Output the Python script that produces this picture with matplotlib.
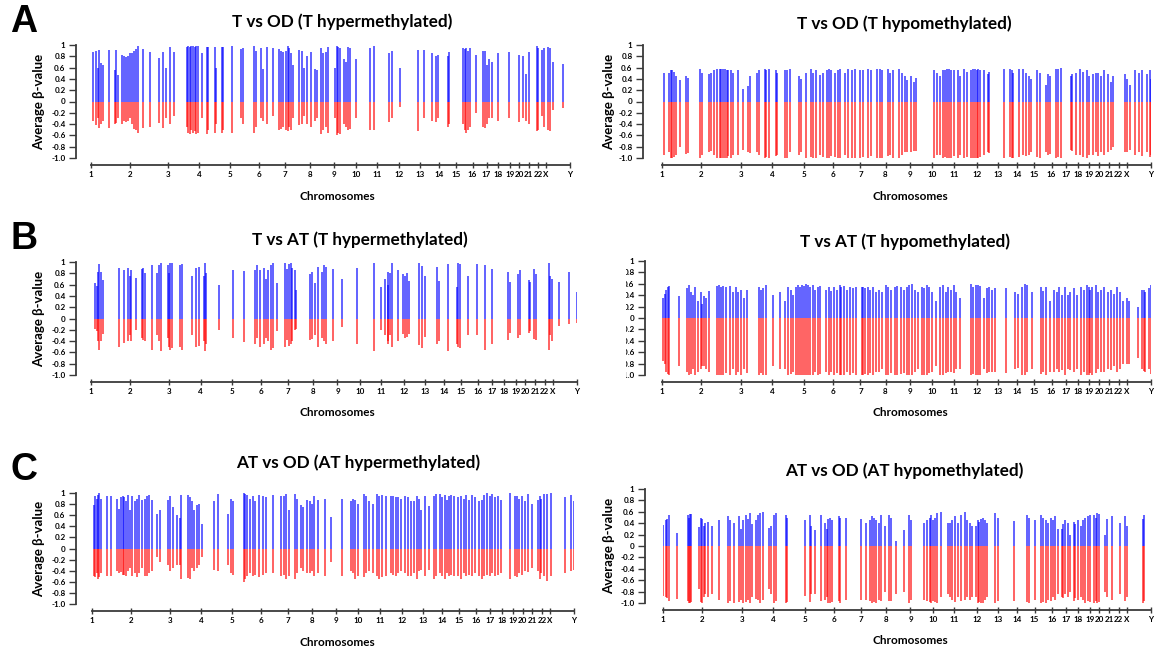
import numpy as np
import matplotlib.pyplot as plt
from matplotlib.patches import Rectangle

plt.rcParams['font.family'] = ['Lato', 'DejaVu Sans']

chrom_names = [str(i) for i in range(1, 23)] + ["X", "Y"]
# start of each chromosome along the concatenated genome (Mb)
chrom_start_mb = [0, 250, 500, 700, 900, 1085, 1258, 1417, 1572, 1714, 1850, 1995,
                  2130, 2250, 2360, 2470, 2560, 2637, 2710, 2770, 2833, 2895, 2945, 3100]

beta_ticks = [1, 0.8, 0.6, 0.4, 0.2, 0, -0.2, -0.4, -0.6, -0.8, -1.0]
beta_labels = ["1", "0.8", "0.6", "0.4", "0.2", "0", "-0.2", "-0.4", "-0.6", "-0.8", "-1.0"]

# probes: (genome position Mb, mean beta group 1, -mean beta group 2)
t_od_hyper = [
    (12, 0.88, -0.35), (31, 0.90, -0.42), (43, 0.60, -0.30), (55, 0.92, -0.47), (67, 0.68, -0.40),
    (79, 0.65, -0.35), (115, 0.92, -0.47), (156, 0.55, -0.40), (163, 0.92, -0.38), (175, 0.47, -0.30),
    (203, 0.82, -0.40), (215, 0.80, -0.35), (227, 0.78, -0.37), (239, 0.80, -0.35), (251, 0.85, -0.30),
    (263, 0.86, -0.40), (280, 0.90, -0.48), (292, 0.93, -0.50), (304, 0.98, -0.55), (335, 0.93, -0.47),
    (383, 0.87, -0.45), (443, 0.77, -0.38), (467, 0.87, -0.47), (484, 0.60, -0.30), (510, 0.97, -0.40),
    (539, 0.87, -0.25), (622, 0.97, -0.45), (630, 0.98, -0.55), (639, 0.96, -0.58), (649, 0.98, -0.50),
    (658, 0.99, -0.55), (670, 0.97, -0.52), (682, 0.99, -0.58), (694, 0.98, -0.55), (718, 0.85, -0.30),
    (749, 0.97, -0.58), (759, 0.96, -0.50), (802, 0.97, -0.55), (809, 0.60, -0.40), (850, 0.96, -0.55),
    (857, 0.96, -0.50), (910, 0.98, -0.55), (970, 0.93, -0.30), (982, 0.95, -0.40), (1053, 0.98, -0.56),
    (1070, 0.90, -0.45), (1101, 0.95, -0.30), (1113, 0.57, -0.35), (1137, 0.96, -0.40), (1180, 0.95, -0.25),
    (1214, 0.93, -0.50), (1228, 0.90, -0.48), (1245, 0.88, -0.45), (1262, 0.90, -0.50), (1274, 0.98, -0.52),
    (1283, 0.95, -0.45), (1293, 0.85, -0.50), (1305, 0.65, -0.30), (1348, 0.92, -0.42), (1364, 0.90, -0.40),
    (1381, 0.60, -0.25), (1396, 0.80, -0.40), (1424, 0.88, -0.45), (1448, 0.58, -0.35), (1465, 0.55, -0.30),
    (1491, 0.95, -0.57), (1501, 0.85, -0.50), (1520, 0.88, -0.45), (1532, 0.97, -0.55), (1580, 0.60, -0.30),
    (1592, 0.98, -0.60), (1599, 0.97, -0.55), (1611, 0.95, -0.57), (1640, 0.75, -0.40), (1652, 0.70, -0.45),
    (1664, 0.97, -0.50), (1673, 0.95, -0.48), (1712, 0.75, -0.30), (1807, 0.95, -0.50), (1831, 0.98, -0.50),
    (1927, 0.85, -0.37), (1946, 0.90, -0.30), (1999, 0.60, -0.10), (2119, 0.92, -0.52), (2155, 0.92, -0.30),
    (2210, 0.85, -0.35), (2234, 0.80, -0.37), (2246, 0.82, -0.30), (2310, 0.80, -0.45), (2317, 0.88, -0.40),
    (2406, 0.95, -0.40), (2418, 0.93, -0.50), (2430, 0.95, -0.55), (2442, 0.90, -0.50), (2454, 0.95, -0.45),
    (2490, 0.83, -0.20), (2538, 0.90, -0.45), (2550, 0.90, -0.47), (2562, 0.65, -0.40), (2578, 0.75, -0.30),
    (2597, 0.70, -0.30), (2633, 0.85, -0.35), (2705, 0.88, -0.30), (2772, 0.82, -0.37), (2794, 0.80, -0.30),
    (2813, 0.48, -0.35), (2832, 0.88, -0.40), (2885, 0.98, -0.53), (2892, 0.95, -0.50), (2921, 0.92, -0.25),
    (2933, 0.95, -0.45), (2957, 0.96, -0.50), (2973, 0.95, -0.52), (2992, 0.70, -0.15), (3052, 0.67, -0.12),
]

t_od_hypo = [
    (14, 0.50, -0.95), (42, 0.50, -0.90), (54, 0.55, -1.00), (65, 0.55, -1.00), (77, 0.52, -0.98),
    (89, 0.45, -0.95), (117, 0.38, -0.80), (152, 0.45, -0.93), (164, 0.42, -0.92), (241, 0.57, -1.00),
    (253, 0.50, -0.95), (299, 0.48, -0.90), (311, 0.50, -0.88), (327, 0.55, -0.95), (351, 0.58, -1.00),
    (365, 0.58, -1.00), (374, 0.57, -1.00), (388, 0.58, -1.00), (400, 0.58, -1.00), (411, 0.56, -1.00),
    (421, 0.55, -0.97), (440, 0.55, -1.00), (451, 0.50, -0.95), (482, 0.55, -0.95), (514, 0.22, -0.85),
    (545, 0.28, -0.90), (561, 0.45, -0.92), (603, 0.50, -0.90), (615, 0.55, -0.95), (650, 0.57, -1.00),
    (662, 0.55, -0.98), (678, 0.57, -1.00), (720, 0.55, -0.97), (732, 0.50, -0.95), (779, 0.55, -1.00),
    (790, 0.55, -1.00), (814, 0.57, -0.90), (867, 0.45, -0.95), (884, 0.40, -0.90), (912, 0.50, -1.00),
    (942, 0.57, -0.98), (959, 0.50, -1.00), (977, 0.55, -1.00), (1001, 0.47, -0.95), (1019, 0.50, -0.98),
    (1043, 0.55, -1.00), (1059, 0.57, -1.00), (1071, 0.55, -0.97), (1094, 0.50, -0.98), (1118, 0.55, -1.00),
    (1129, 0.57, -1.00), (1160, 0.50, -0.95), (1176, 0.57, -1.00), (1206, 0.55, -1.00), (1223, 0.57, -1.00),
    (1258, 0.55, -1.00), (1277, 0.55, -0.98), (1305, 0.57, -1.00), (1328, 0.55, -0.97), (1363, 0.57, -1.00),
    (1379, 0.58, -1.00), (1393, 0.55, -1.00), (1433, 0.57, -0.97), (1445, 0.50, -0.95), (1464, 0.55, -1.00),
    (1503, 0.57, -1.00), (1522, 0.50, -0.95), (1538, 0.45, -0.90), (1550, 0.38, -0.90), (1581, 0.45, -0.90),
    (1597, 0.35, -0.88), (1613, 0.42, -0.88), (1725, 0.55, -1.00), (1744, 0.50, -0.95), (1761, 0.45, -0.95),
    (1784, 0.55, -1.00), (1796, 0.55, -0.98), (1807, 0.57, -1.00), (1819, 0.58, -1.00), (1831, 0.55, -1.00),
    (1854, 0.56, -0.97), (1877, 0.55, -1.00), (1889, 0.45, -0.95), (1912, 0.58, -1.00), (1931, 0.52, -0.98),
    (1959, 0.55, -1.00), (1971, 0.58, -1.00), (1983, 0.57, -1.00), (1994, 0.55, -1.00), (2006, 0.57, -1.00),
    (2018, 0.55, -0.98), (2041, 0.55, -0.95), (2064, 0.48, -0.90), (2076, 0.52, -0.92), (2170, 0.57, -1.00),
    (2205, 0.58, -0.98), (2216, 0.55, -1.00), (2228, 0.50, -1.00), (2263, 0.58, -0.98), (2287, 0.58, -0.95),
    (2310, 0.50, -0.97), (2329, 0.45, -0.95), (2338, 0.40, -0.90), (2380, 0.55, -0.98), (2399, 0.50, -1.00),
    (2432, 0.30, -0.90), (2450, 0.48, -0.95), (2462, 0.45, -0.93), (2497, 0.58, -1.00), (2513, 0.58, -0.98),
    (2532, 0.60, -1.00), (2591, 0.45, -0.85), (2602, 0.48, -0.87), (2626, 0.50, -0.95), (2649, 0.58, -0.95),
    (2672, 0.52, -0.98), (2696, 0.55, -1.00), (2707, 0.45, -0.95), (2731, 0.48, -0.95), (2749, 0.50, -0.90),
    (2766, 0.50, -0.97), (2782, 0.45, -0.90), (2801, 0.55, -0.95), (2829, 0.48, -0.90), (2848, 0.35, -0.85),
    (2859, 0.45, -0.80), (2937, 0.48, -0.90), (2948, 0.40, -0.90), (2965, 0.30, -0.85), (3000, 0.55, -0.95),
    (3023, 0.50, -0.90), (3046, 0.55, -0.97), (3077, 0.48, -0.90), (3093, 0.55, -0.98), (3100, 0.40, -0.95),
]

t_at_hyper = [
    (24, 0.62, -0.18), (40, 0.58, -0.22), (47, 0.83, -0.40), (54, 0.97, -0.55), (64, 0.82, -0.40),
    (78, 0.68, -0.27), (181, 0.90, -0.50), (212, 0.85, -0.43), (236, 0.90, -0.40), (247, 0.75, -0.30),
    (255, 0.85, -0.40), (290, 0.72, -0.20), (323, 0.87, -0.35), (332, 0.90, -0.38), (346, 0.80, -0.40),
    (389, 0.95, -0.55), (420, 0.80, -0.30), (431, 0.94, -0.40), (448, 0.98, -0.58), (490, 0.95, -0.35),
    (497, 0.80, -0.50), (507, 0.98, -0.55), (519, 0.98, -0.52), (566, 0.95, -0.50), (582, 0.97, -0.55),
    (643, 0.76, -0.30), (672, 0.90, -0.50), (686, 0.92, -0.48), (719, 0.75, -0.40), (726, 0.98, -0.58),
    (735, 0.80, -0.45), (818, 0.60, -0.20), (907, 0.85, -0.35), (978, 0.84, -0.42), (1049, 0.86, -0.45),
    (1061, 0.95, -0.35), (1079, 0.85, -0.50), (1101, 0.90, -0.45), (1115, 0.70, -0.35), (1127, 0.85, -0.40),
    (1148, 0.95, -0.55), (1162, 0.98, -0.52), (1186, 0.63, -0.22), (1237, 0.98, -0.50), (1249, 0.88, -0.38),
    (1261, 0.96, -0.48), (1273, 0.98, -0.45), (1285, 0.90, -0.40), (1303, 0.85, -0.20), (1308, 0.50, -0.18),
    (1398, 0.78, -0.38), (1409, 0.83, -0.37), (1426, 0.63, -0.30), (1445, 0.92, -0.50), (1473, 0.82, -0.35),
    (1485, 0.95, -0.40), (1497, 0.92, -0.45), (1544, 0.87, -0.40), (1603, 0.70, -0.15), (1697, 0.90, -0.45),
    (1808, 0.98, -0.57), (1850, 0.55, -0.20), (1874, 0.70, -0.30), (1893, 0.82, -0.40), (1897, 0.60, -0.45),
    (1909, 0.80, -0.30), (1921, 0.98, -0.50), (1956, 0.85, -0.40), (1987, 0.78, -0.28), (2003, 0.75, -0.35),
    (2015, 0.80, -0.33), (2029, 0.67, -0.28), (2091, 0.98, -0.47), (2114, 0.93, -0.52), (2133, 0.75, -0.32),
    (2208, 0.92, -0.45), (2218, 0.67, -0.40), (2274, 0.96, -0.58), (2336, 0.55, -0.45), (2340, 0.98, -0.50),
    (2352, 0.96, -0.53), (2404, 0.75, -0.30), (2463, 0.97, -0.30), (2510, 0.95, -0.55), (2557, 0.88, -0.45),
    (2659, 0.82, -0.38), (2671, 0.65, -0.25), (2722, 0.78, -0.35), (2734, 0.85, -0.30), (2793, 0.68, -0.25),
    (2800, 0.65, -0.22), (2828, 0.88, -0.37), (2840, 0.78, -0.38), (2923, 0.98, -0.55), (2930, 0.75, -0.30),
    (2941, 0.70, -0.40), (2982, 0.65, -0.13), (3052, 0.82, -0.10), (3098, 0.47, -0.08),
]

t_at_hypo = [
    (7, 0.35, -0.75), (16, 0.42, -0.80), (26, 0.50, -0.95), (35, 0.55, -0.98), (47, 0.57, -1.00),
    (110, 0.38, -0.85), (156, 0.52, -0.95), (170, 0.58, -1.00), (182, 0.45, -0.98), (198, 0.40, -0.90),
    (212, 0.55, -1.00), (228, 0.30, -0.95), (245, 0.45, -0.90), (256, 0.25, -0.85), (268, 0.38, -0.85),
    (280, 0.35, -0.90), (296, 0.48, -0.95), (350, 0.57, -1.00), (361, 0.58, -1.00), (373, 0.55, -1.00),
    (385, 0.57, -1.00), (408, 0.55, -0.97), (431, 0.57, -1.00), (450, 0.45, -0.90), (466, 0.55, -1.00),
    (483, 0.45, -0.95), (501, 0.50, -1.00), (520, 0.35, -0.90), (536, 0.50, -0.97), (613, 0.55, -1.00),
    (629, 0.50, -0.97), (641, 0.52, -1.00), (660, 0.58, -1.00), (706, 0.40, -0.85), (746, 0.45, -0.90),
    (781, 0.30, -0.90), (800, 0.55, -1.00), (816, 0.50, -0.98), (828, 0.40, -0.95), (851, 0.55, -1.00),
    (862, 0.58, -1.00), (874, 0.55, -1.00), (886, 0.58, -1.00), (902, 0.57, -1.00), (916, 0.60, -1.00),
    (925, 0.58, -1.00), (939, 0.55, -1.00), (956, 0.58, -1.00), (967, 0.50, -0.95), (986, 0.55, -1.00),
    (1002, 0.57, -0.98), (1037, 0.50, -0.95), (1061, 0.55, -1.00), (1072, 0.48, -0.95), (1089, 0.55, -1.00),
    (1107, 0.50, -0.97), (1126, 0.58, -1.00), (1135, 0.55, -1.00), (1154, 0.57, -1.00), (1172, 0.50, -0.95),
    (1189, 0.55, -1.00), (1212, 0.53, -0.97), (1228, 0.55, -1.00), (1266, 0.55, -1.00), (1275, 0.55, -1.00),
    (1289, 0.53, -0.98), (1305, 0.55, -1.00), (1317, 0.50, -0.97), (1336, 0.55, -1.00), (1359, 0.45, -0.95),
    (1375, 0.50, -0.95), (1392, 0.45, -0.90), (1422, 0.58, -1.00), (1434, 0.55, -1.00), (1452, 0.50, -0.97),
    (1476, 0.55, -1.00), (1492, 0.57, -1.00), (1515, 0.55, -0.98), (1531, 0.50, -0.97), (1550, 0.55, -1.00),
    (1569, 0.58, -1.00), (1585, 0.60, -1.00), (1601, 0.50, -0.95), (1620, 0.45, -0.90), (1648, 0.55, -1.00),
    (1662, 0.52, -1.00), (1678, 0.58, -1.00), (1690, 0.55, -0.97), (1709, 0.45, -0.95), (1737, 0.30, -0.85),
    (1760, 0.55, -1.00), (1783, 0.58, -1.00), (1802, 0.45, -0.97), (1814, 0.55, -0.95), (1830, 0.50, -0.95),
    (1849, 0.58, -0.97), (1865, 0.45, -0.90), (1888, 0.35, -0.90), (1958, 0.60, -1.00), (1974, 0.55, -0.98),
    (1993, 0.58, -1.00), (2005, 0.58, -1.00), (2016, 0.57, -1.00), (2040, 0.35, -0.90), (2058, 0.52, -0.97),
    (2075, 0.55, -0.95), (2091, 0.50, -0.95), (2110, 0.52, -0.95), (2179, 0.52, -0.97), (2238, 0.45, -0.90),
    (2254, 0.42, -0.88), (2284, 0.55, -1.00), (2301, 0.60, -1.00), (2315, 0.58, -0.95), (2343, 0.45, -0.90),
    (2401, 0.55, -0.98), (2417, 0.48, -0.95), (2436, 0.55, -1.00), (2459, 0.30, -0.95), (2483, 0.50, -0.95),
    (2501, 0.45, -0.90), (2517, 0.55, -0.95), (2534, 0.40, -0.92), (2552, 0.55, -1.00), (2571, 0.40, -0.90),
    (2587, 0.45, -0.92), (2611, 0.52, -0.95), (2634, 0.40, -0.90), (2657, 0.55, -1.00), (2674, 0.50, -0.95),
    (2692, 0.58, -1.00), (2704, 0.55, -1.00), (2716, 0.50, -0.97), (2727, 0.55, -1.00), (2751, 0.58, -0.97),
    (2767, 0.45, -0.90), (2786, 0.50, -0.95), (2804, 0.55, -0.95), (2828, 0.45, -0.90), (2844, 0.50, -0.92),
    (2867, 0.42, -0.85), (2883, 0.55, -0.95), (2902, 0.45, -0.90), (2921, 0.30, -0.80), (2949, 0.35, -0.80),
    (2960, 0.30, -0.80), (3019, 0.20, -0.70), (3042, 0.50, -0.90), (3054, 0.50, -0.93), (3065, 0.45, -0.95),
    (3088, 0.52, -0.90), (3100, 0.58, -0.98),
]

at_od_hyper = [
    (12, 0.78, -0.50), (19, 0.95, -0.52), (29, 0.90, -0.45), (38, 0.97, -0.55), (48, 1.00, -0.52),
    (59, 0.90, -0.45), (95, 0.95, -0.50), (119, 0.95, -0.50), (162, 0.90, -0.40), (171, 0.72, -0.45),
    (186, 0.92, -0.42), (197, 0.95, -0.48), (209, 0.93, -0.47), (219, 0.85, -0.50), (231, 0.97, -0.40),
    (243, 0.70, -0.35), (257, 0.95, -0.50), (274, 0.85, -0.45), (290, 0.90, -0.52), (305, 0.97, -0.45),
    (321, 0.88, -0.35), (338, 0.90, -0.50), (352, 0.95, -0.50), (369, 0.97, -0.45), (385, 0.87, -0.40),
    (416, 0.63, -0.15), (440, 0.70, -0.25), (488, 0.88, -0.30), (504, 0.95, -0.40), (523, 0.75, -0.35),
    (547, 0.60, -0.30), (566, 0.55, -0.30), (571, 0.97, -0.55), (619, 0.97, -0.53), (630, 0.93, -0.55),
    (642, 0.85, -0.35), (659, 0.70, -0.40), (678, 0.78, -0.35), (690, 0.80, -0.30), (707, 0.45, -0.15),
    (785, 0.85, -0.38), (809, 0.98, -0.40), (875, 0.62, -0.30), (892, 0.90, -0.45), (904, 0.85, -0.48),
    (975, 1.00, -0.60), (987, 0.98, -0.55), (999, 0.97, -0.50), (1018, 0.90, -0.45), (1035, 0.95, -0.50),
    (1047, 0.85, -0.48), (1071, 0.97, -0.52), (1099, 0.95, -0.47), (1118, 0.92, -0.45), (1166, 0.97, -0.45),
    (1213, 0.95, -0.50), (1232, 0.95, -0.47), (1249, 0.98, -0.55), (1266, 0.70, -0.50), (1304, 0.98, -0.55),
    (1320, 0.90, -0.45), (1344, 0.78, -0.35), (1356, 0.75, -0.40), (1380, 0.88, -0.45), (1399, 0.85, -0.45),
    (1416, 0.80, -0.40), (1427, 0.95, -0.50), (1451, 0.87, -0.45), (1499, 0.90, -0.50), (1534, 0.57, -0.25),
    (1606, 0.90, -0.50), (1665, 0.85, -0.40), (1677, 0.90, -0.45), (1694, 0.88, -0.55), (1713, 0.80, -0.50),
    (1749, 0.98, -0.52), (1760, 0.95, -0.45), (1784, 0.85, -0.40), (1808, 0.80, -0.45), (1832, 0.98, -0.50),
    (1844, 0.95, -0.55), (1868, 0.97, -0.52), (1891, 0.95, -0.50), (1922, 0.95, -0.45), (1939, 0.95, -0.48),
    (1956, 0.93, -0.50), (1970, 0.92, -0.45), (1986, 0.90, -0.40), (2015, 0.95, -0.45), (2034, 0.93, -0.50),
    (2051, 0.85, -0.50), (2070, 0.85, -0.45), (2089, 0.95, -0.55), (2105, 0.90, -0.40), (2117, 0.70, -0.38),
    (2141, 0.95, -0.50), (2165, 0.77, -0.38), (2200, 0.95, -0.55), (2212, 0.98, -0.50), (2236, 0.98, -0.45),
    (2253, 0.92, -0.50), (2272, 0.97, -0.55), (2284, 0.88, -0.45), (2296, 0.95, -0.50), (2312, 0.97, -0.48),
    (2331, 0.95, -0.50), (2355, 0.92, -0.50), (2374, 0.95, -0.55), (2391, 0.90, -0.45), (2407, 0.97, -0.50),
    (2426, 0.88, -0.47), (2445, 0.97, -0.50), (2462, 0.92, -0.45), (2486, 0.85, -0.50), (2510, 0.88, -0.55),
    (2522, 0.97, -0.50), (2541, 1.00, -0.48), (2557, 0.95, -0.50), (2574, 0.98, -0.45), (2593, 0.92, -0.50),
    (2612, 0.95, -0.48), (2628, 0.88, -0.45), (2688, 1.00, -0.55), (2719, 0.95, -0.50), (2736, 0.95, -0.52),
    (2748, 0.90, -0.45), (2764, 0.95, -0.47), (2783, 0.85, -0.40), (2807, 0.98, -0.42), (2831, 0.80, -0.35),
    (2867, 0.88, -0.40), (2879, 0.95, -0.55), (2890, 0.90, -0.45), (2907, 0.98, -0.50), (2926, 0.98, -0.58),
    (2955, 1.00, -0.50), (3045, 0.92, -0.45), (3081, 0.97, -0.40), (3100, 0.85, -0.38),
]

at_od_hypo = [
    (2, 0.37, -0.88), (19, 0.45, -0.90), (28, 0.47, -0.92), (38, 0.55, -0.97), (91, 0.22, -0.93),
    (157, 0.55, -0.97), (164, 0.50, -1.00), (174, 0.56, -1.00), (181, 0.57, -0.98), (227, 0.33, -0.75),
    (239, 0.50, -0.98), (246, 0.48, -1.00), (258, 0.35, -0.90), (267, 0.40, -0.85), (286, 0.42, -0.90),
    (310, 0.35, -0.85), (356, 0.45, -0.95), (415, 0.53, -1.00), (427, 0.45, -0.97), (450, 0.40, -1.00),
    (481, 0.53, -0.98), (497, 0.30, -0.95), (509, 0.45, -1.00), (525, 0.55, -0.98), (539, 0.47, -0.95),
    (551, 0.58, -1.00), (567, 0.38, -0.90), (591, 0.45, -0.93), (603, 0.55, -0.95), (614, 0.58, -1.00),
    (638, 0.60, -0.95), (673, 0.32, -0.75), (689, 0.35, -0.85), (703, 0.55, -1.00), (720, 0.58, -0.97),
    (779, 0.55, -1.00), (790, 0.50, -0.98), (900, 0.45, -0.88), (931, 0.55, -0.98), (938, 0.35, -0.85),
    (966, 0.28, -0.85), (1001, 0.55, -0.97), (1032, 0.40, -0.95), (1041, 0.30, -0.90), (1048, 0.48, -1.00),
    (1060, 0.50, -1.00), (1072, 0.45, -0.98), (1119, 0.52, -0.97), (1126, 0.50, -1.00), (1165, 0.50, -0.95),
    (1259, 0.47, -0.95), (1290, 0.40, -0.95), (1318, 0.45, -0.97), (1330, 0.53, -1.00), (1341, 0.50, -0.98),
    (1353, 0.45, -1.00), (1369, 0.40, -0.95), (1384, 0.55, -0.97), (1412, 0.35, -0.80), (1435, 0.55, -0.97),
    (1447, 0.50, -0.97), (1477, 0.08, -0.85), (1534, 0.28, -0.80), (1564, 0.55, -1.00), (1576, 0.45, -0.95),
    (1658, 0.40, -0.95), (1674, 0.45, -0.97), (1693, 0.50, -0.98), (1705, 0.55, -1.00), (1717, 0.45, -0.97),
    (1728, 0.50, -0.98), (1740, 0.58, -1.00), (1763, 0.60, -0.90), (1810, 0.40, -0.85), (1822, 0.40, -0.90),
    (1838, 0.45, -0.95), (1857, 0.52, -0.98), (1876, 0.40, -0.90), (1892, 0.55, -0.97), (1916, 0.60, -0.95),
    (1928, 0.45, -0.90), (1951, 0.40, -0.95), (1963, 0.35, -0.90), (1986, 0.35, -0.90), (1998, 0.45, -1.00),
    (2010, 0.42, -0.98), (2021, 0.48, -1.00), (2033, 0.50, -1.00), (2045, 0.45, -0.95), (2057, 0.40, -0.90),
    (2111, 0.58, -1.00), (2127, 0.50, -0.97), (2232, 0.43, -0.97), (2315, 0.55, -0.98), (2322, 0.50, -1.00),
    (2361, 0.45, -0.95), (2401, 0.55, -1.00), (2415, 0.50, -0.98), (2432, 0.45, -1.00), (2443, 0.40, -0.95),
    (2462, 0.50, -0.97), (2479, 0.45, -0.90), (2490, 0.52, -0.95), (2509, 0.30, -0.85), (2533, 0.30, -0.90),
    (2542, 0.38, -0.92), (2556, 0.45, -0.85), (2572, 0.40, -0.90), (2584, 0.20, -0.80), (2608, 0.42, -0.97),
    (2619, 0.38, -0.92), (2636, 0.45, -0.95), (2655, 0.35, -0.90), (2666, 0.45, -0.95), (2683, 0.50, -1.00),
    (2697, 0.52, -0.97), (2713, 0.55, -0.98), (2737, 0.55, -1.00), (2748, 0.50, -0.97), (2760, 0.58, -1.00),
    (2772, 0.57, -0.98), (2807, 0.20, -0.80), (2823, 0.48, -0.90), (2854, 0.52, -0.95), (2901, 0.40, -0.85),
    (2936, 0.52, -0.97), (2948, 0.35, -0.90), (3049, 0.48, -1.00), (3058, 0.55, -0.97),
]

W, H = 1158, 652
PT = 72 / 100  # points per pixel at dpi 100
fig = plt.figure(figsize=(W / 100, H / 100), dpi=100)

# (title, probes, [left, right, top, bottom] in px, y spine x in px, title xy, letter)
panels = [
    ("T vs OD (T hypermethylated)", t_od_hyper, [91, 570, 45, 158], 76, (342, 22), "A"),
    ("T vs OD (T hypomethylated)", t_od_hypo, [662, 1151, 45, 158], 643, (904, 24), None),
    ("T vs AT (T hypermethylated)", t_at_hyper, [91, 577, 262, 375], 76, (360, 240), "B"),
    ("T vs AT (T hypomethylated)", t_at_hypo, [662, 1151, 261, 375], 645, (905, 242), None),
    ("AT vs OD (AT hypermethylated)", at_od_hyper, [92, 574, 493, 604], 76, (358, 463), "C"),
    ("AT vs OD (AT hypomethylated)", at_od_hypo, [663, 1151, 489, 603], 645, (904, 471), None),
]

axis_col = "#3a3a3a"

for i, (title, probes, box, spine_x, title_xy, letter) in enumerate(panels):
    left, right, top, bottom = box
    ax = fig.add_axes([left / W, 1 - bottom / H, (right - left) / W, (bottom - top) / H])
    pos, up, down = (np.array(v) for v in zip(*probes))
    ax.vlines(pos, 0, up, colors="#0000ff", alpha=0.62, lw=1.4)
    ax.vlines(pos, down, 0, colors="#ff0000", alpha=0.62, lw=1.4)
    ax.set_xlim(0, 3100)
    ax.set_ylim(-1, 1)

    for s in ["top", "right"]:
        ax.spines[s].set_visible(False)
    ax.spines["left"].set_position(("outward", (left - spine_x) * PT))
    ax.spines["left"].set_bounds(-1, 1)
    ax.spines["bottom"].set_position(("outward", 7 * PT))
    ax.spines["bottom"].set_bounds(0, 3100)
    for s in ["left", "bottom"]:
        ax.spines[s].set_color(axis_col)
        ax.spines[s].set_linewidth(1.3)

    ax.set_yticks(beta_ticks)
    ax.set_yticklabels(beta_labels, fontsize=5.8, fontweight="bold")
    ax.set_xticks(chrom_start_mb)
    ax.set_xticklabels(chrom_names, fontsize=5.8, fontweight="bold")
    ax.tick_params(axis="y", length=5, width=1, color=axis_col, pad=2.5)
    ax.tick_params(axis="x", direction="inout", length=4, width=1, color=axis_col, pad=2)

    cy = (top + bottom) / 2
    if i == 3:
        # this panel is trimmed on its left edge, cutting into the tick labels
        fig.patches.append(Rectangle((585 / W, 1 - 385 / H), 41 / W, 135 / H,
                                     transform=fig.transFigure, facecolor="white",
                                     edgecolor="none", zorder=5))
    else:
        lx = 39 if left < 500 else 609
        fig.text(lx / W, 1 - cy / H, "Average β-value", rotation=90, ha="center", va="center",
                 fontsize=9.5, fontweight="bold")

    fig.text((337 if left < 500 else 910) / W, 1 - (bottom + 38) / H, "Chromosomes",
             ha="center", va="center", fontsize=8.5, fontweight="bold")
    fig.text(title_xy[0] / W, 1 - title_xy[1] / H, title, ha="center", va="center",
             fontsize=12.3, fontweight="bold")
    if letter:
        fig.text(24 / W, 1 - (top - 23) / H, letter, ha="center", va="center",
                 fontsize=27, fontweight="bold", family="Liberation Sans")

fig.savefig("out.png", dpi=100)
